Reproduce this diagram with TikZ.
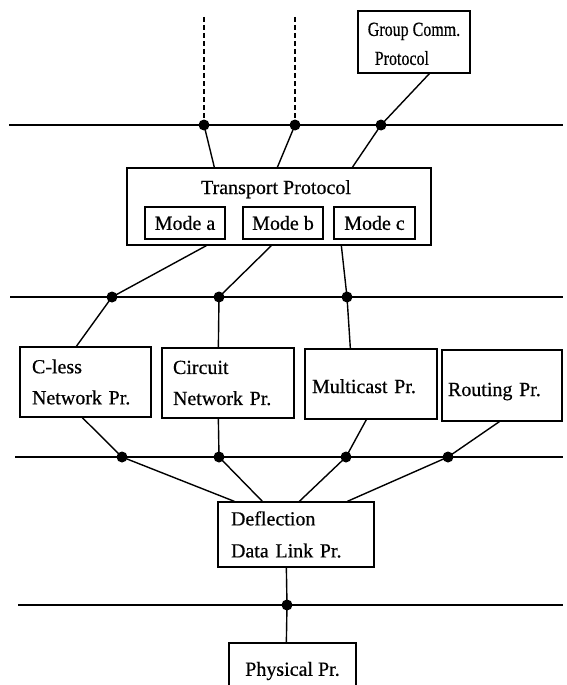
\documentclass[tikz,border=0pt]{standalone}
\usepackage{graphicx}
\usepackage{fontspec}
\setmainfont{Liberation Serif}[FakeBold=0.5]
\begin{document}
\begin{tikzpicture}[x=1pt,y=-1pt,
  box/.style={draw, line width=1.3pt, inner sep=0pt, font=\fontsize{20}{30}\selectfont},
  txt/.style={inner sep=0pt, font=\fontsize{20}{30}\selectfont},
  dot/.style={circle, fill, inner sep=0pt, minimum size=11pt},
  bus/.style={line width=1.4pt},
  conn/.style={line width=1.4pt},
  dashconn/.style={line width=1.3pt, dash pattern=on 5pt off 3pt}
]
\clip (0,0) rectangle (566,685);

% boxes
\node[box, minimum width=112pt, minimum height=62pt, align=left,
      font=\fontsize{20}{29}\selectfont] (group) at (414,42)
      {\rule{0pt}{17pt}\scalebox{0.8}[1]{Group Comm.}\\\hspace*{7pt}\scalebox{0.8}[1]{Protocol}};
\node[box, minimum width=304pt, minimum height=77pt] (tp) at (279,206.5) {};
\node[txt, anchor=base] (tptitle) at (276,194) {Transport Protocol};
\node[box, minimum width=80pt, minimum height=32pt] (ma) at (185,223) {Mode a};
\node[box, minimum width=80pt, minimum height=32pt] (mb) at (283,223) {Mode b};
\node[box, minimum width=81pt, minimum height=32pt] (mc) at (374.5,223) {Mode c};

\node[box, minimum width=131pt, minimum height=70pt, text width=107pt, align=left,
      font=\fontsize{20}{31}\selectfont] (cl) at (85.5,382) {C-less\\Network Pr.};
\node[box, minimum width=132pt, minimum height=70pt, text width=110pt, align=left,
      font=\fontsize{20}{31}\selectfont] (ci) at (228,383) {Circuit\\Network Pr.};
\node[box, minimum width=132pt, minimum height=70pt, text width=118pt, align=left,
      text height=18pt, text depth=0pt] (mu) at (371,384) {Multicast Pr.};
\node[box, minimum width=120pt, minimum height=71pt, text width=108pt, align=left,
      text height=21pt, text depth=0pt] (ro) at (502,385.5) {Routing Pr.};

\node[box, minimum width=156pt, minimum height=65pt, text width=130pt, align=left,
      font=\fontsize{20}{32}\selectfont] (de) at (296,534.5) {Deflection\\Data Link Pr.};
\node[box, minimum width=127pt, minimum height=56pt] (ph) at (292.5,671) {Physical Pr.};

% bus lines
\coordinate (b1l) at (9,125);  \coordinate (b1r) at (563,125);
\coordinate (b2l) at (10,297); \coordinate (b2r) at (563,297);
\coordinate (b3l) at (15,457); \coordinate (b3r) at (563,457);
\coordinate (b4l) at (18,605); \coordinate (b4r) at (563,605);
\draw[bus] (b1l) -- (b1r);
\draw[bus] (b2l) -- (b2r);
\draw[bus] (b3l) -- (b3r);
\draw[bus] (b4l) -- (b4r);

% dots
\node[dot] (d1a) at (204,125) {};
\node[dot] (d1b) at (295,125) {};
\node[dot] (d1c) at (381,125) {};
\node[dot] (d2a) at (112,297) {};
\node[dot] (d2b) at (219,297) {};
\node[dot] (d2c) at (347,297) {};
\node[dot] (d3a) at (122,457) {};
\node[dot] (d3b) at (219,457) {};
\node[dot] (d3c) at (346,457) {};
\node[dot] (d3d) at (448,457) {};
\node[dot] (d4)  at (287,605) {};

% dashed lines upward
\coordinate (up1) at (204,17);
\coordinate (up2) at (295,17);
\draw[dashconn] (up1) -- (d1a.center);
\draw[dashconn] (up2) -- (d1b.center);

% connectors
\draw[conn] ([xshift=72pt]group.south west) -- (d1c.center);
\draw[conn] (d1a.center) -- ([xshift=88pt]tp.north west);
\draw[conn] (d1b.center) -- ([xshift=151pt]tp.north west);
\draw[conn] (d1c.center) -- ([xshift=226pt]tp.north west);

\draw[conn] ([xshift=80pt]tp.south west) -- (d2a.center);
\draw[conn] ([xshift=145pt]tp.south west) -- (d2b.center);
\draw[conn] ([xshift=215pt]tp.south west) -- (d2c.center);

\draw[conn] (d2a.center) -- ([xshift=57pt]cl.north west);
\draw[conn] (d2b.center) -- ([xshift=57pt]ci.north west);
\draw[conn] (d2c.center) -- ([xshift=46pt]mu.north west);

\draw[conn] ([xshift=63pt]cl.south west) -- (d3a.center);
\draw[conn] ([xshift=57pt]ci.south west) -- (d3b.center);
\draw[conn] ([xshift=62pt]mu.south west) -- (d3c.center);
\draw[conn] ([xshift=58pt]ro.south west) -- (d3d.center);

\draw[conn] (d3a.center) -- ([xshift=17pt]de.north west);
\draw[conn] (d3b.center) -- ([xshift=45pt]de.north west);
\draw[conn] (d3c.center) -- ([xshift=82pt]de.north west);
\draw[conn] (d3d.center) -- ([xshift=130pt]de.north west);

\draw[conn] ([xshift=69pt]de.south west) -- (d4.center);
\draw[conn] (d4.center) -- ([xshift=58pt]ph.north west);
\end{tikzpicture}
\end{document}
